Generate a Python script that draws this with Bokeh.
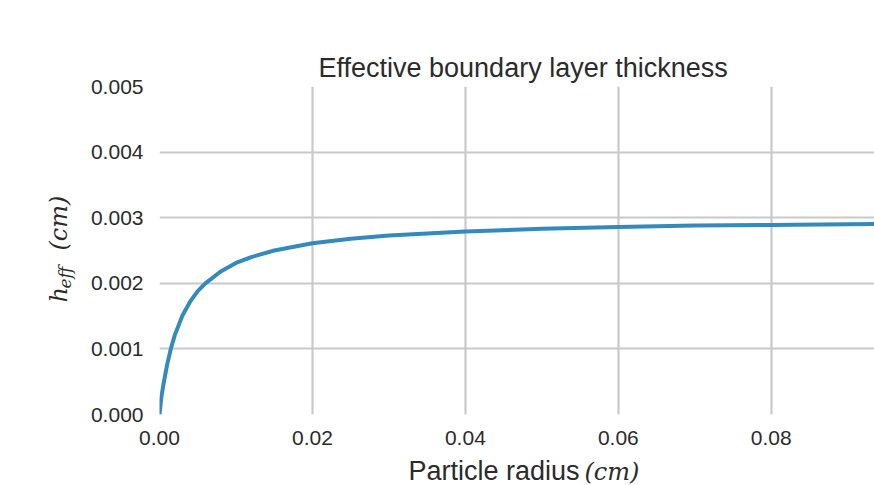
import math
from bokeh.plotting import figure
from bokeh.models import Label, FixedTicker, PrintfTickFormatter, Range1d
from bokeh.embed import file_html
from bokeh.resources import INLINE

# ---- data ----
radius = [0.0, 0.00025, 0.0005, 0.001, 0.0015, 0.002, 0.003, 0.004, 0.005,
          0.006, 0.008, 0.010, 0.012, 0.015, 0.020, 0.025, 0.030, 0.035,
          0.040, 0.050, 0.060, 0.070, 0.080, 0.090, 0.100]
h_eff = [0.0, 0.00027, 0.00045, 0.00076, 0.00101, 0.00121, 0.00151, 0.00172,
         0.00188, 0.00200, 0.00218, 0.00231, 0.00240, 0.00250, 0.00261,
         0.00268, 0.00273, 0.00276, 0.00279, 0.00283, 0.00286, 0.00288,
         0.00289, 0.00290, 0.00291]
x_ticks = [0.0, 0.02, 0.04, 0.06, 0.08]
y_ticks = [0.0, 0.001, 0.002, 0.003, 0.004, 0.005]
title_text = "Effective boundary layer thickness"
xlabel_text = "Particle radius"
unit_text = "(cm)"
ylabel_main = "h"
ylabel_sub = "eff"

W, H = 874, 485
GRID = "#c9c9c9"
TXT = "#2b2b2b"
LINE = "#348ABD"

p = figure(width=W, height=H, output_backend="svg", toolbar_location=None,
           title_location=None,
           x_range=Range1d(0.0, 0.0935), y_range=Range1d(0.0, 0.005),
           min_border_left=159, min_border_right=0, min_border_top=86,
           min_border_bottom=71)
p.background_fill_color = "white"
p.border_fill_color = "white"
p.outline_line_color = None

for ax in (p.xaxis[0], p.yaxis[0]):
    ax.axis_line_color = None
    ax.major_tick_line_color = None
    ax.minor_tick_line_color = None
    ax.major_tick_out = 0
    ax.major_tick_in = 0
    ax.major_label_text_font = "Liberation Sans"
    ax.major_label_text_font_size = "21px"
    ax.major_label_text_color = TXT

p.xaxis.ticker = FixedTicker(ticks=x_ticks)
p.yaxis.ticker = FixedTicker(ticks=y_ticks)
p.xaxis.formatter = PrintfTickFormatter(format="%.2f")
p.yaxis.formatter = PrintfTickFormatter(format="%.3f")
p.xaxis.major_label_standoff = 16
p.yaxis.major_label_standoff = 16

p.xgrid.ticker = FixedTicker(ticks=x_ticks)
p.ygrid.ticker = FixedTicker(ticks=y_ticks)
for g in (p.xgrid[0], p.ygrid[0]):
    g.grid_line_color = GRID
    g.grid_line_width = 2.2

p.line(radius, h_eff, line_color=LINE, line_width=4)

# title and axis labels as labels placed in the side panels (canvas pixels),
# so that the math parts can be italic serif
def lab(panel, x, y, text, font, size, style="normal", angle=0.0):
    p.add_layout(Label(x=x, y=y, x_units="canvas", y_units="canvas",
                       text=text, angle=angle, text_font=font,
                       text_font_style=style, text_font_size=size,
                       text_color=TXT, text_baseline="bottom",
                       text_align="left"), panel)

lab("above", 318, 82, title_text, "Liberation Sans", "27px")
lab("above", 408, 485, xlabel_text, "Liberation Sans", "27px")
lab("below", 584, 485, unit_text, "DejaVu Serif", "24px", "italic")

ang = math.pi / 2
lab("left", 72, 302, ylabel_main, "DejaVu Serif", "24px", "italic", ang)
lab("left", 74, 288, ylabel_sub, "DejaVu Serif", "17px", "italic", ang)
lab("left", 72, 250, unit_text, "DejaVu Serif", "24px", "italic", ang)

open("out.html", "w").write(file_html(p, INLINE))
